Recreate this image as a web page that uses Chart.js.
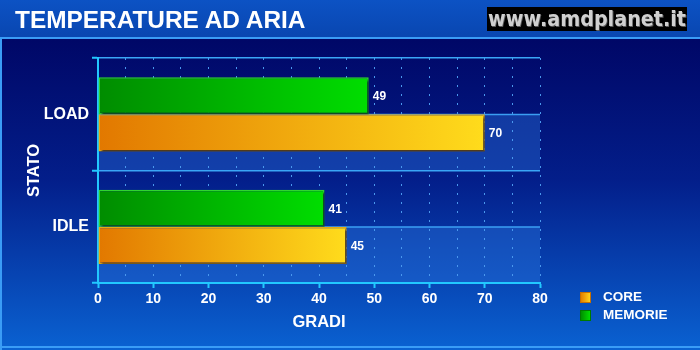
<!DOCTYPE html>
<html>
<head>
<meta charset="utf-8">
<title>Temperature ad aria</title>
<script src="https://cdn.jsdelivr.net/npm/chart.js@4.4.1/dist/chart.umd.min.js"></script>
<style>
  html, body { margin: 0; padding: 0; background: #000a6a; }
  #wrap { position: relative; width: 700px; height: 350px; overflow: hidden; font-family: "Liberation Sans", Arial, sans-serif; }
  #chart { position: absolute; left: 0; top: 0; }
  .title { position: absolute; left: 15px; top: 8px; font-weight: bold; font-size: 24.4px; line-height: 24px; color: #fff; white-space: nowrap; }
  .site { position: absolute; left: 487px; top: 7px; width: 200px; height: 24px; background: #000; overflow: hidden; }
  .site span { position: absolute; left: 1px; top: 0; font-family: "DejaVu Sans", sans-serif; font-weight: bold; font-size: 22px; line-height: 24px; color: #d0d0d0; text-shadow: 1px 1px 0 #5a5a5a; white-space: nowrap; transform-origin: 0 50%; }
  .legend { position: absolute; left: 580px; font-weight: bold; font-size: 13.5px; line-height: 18px; color: #fff; white-space: nowrap; }
  .legend i { position: absolute; left: 0; top: 4px; width: 9px; height: 9px; border: 1px solid; }
  .legend span { position: absolute; left: 23px; top: 0; }
</style>
</head>
<body>
<div id="wrap">
  <canvas id="chart" width="700" height="350"></canvas>
  <div class="title">TEMPERATURE AD ARIA</div>
  <div class="site"><span id="site">www.amdplanet.it</span></div>
  <div class="legend" style="top:288px"><i style="background:linear-gradient(90deg,#e57f00,#ffd21a);border-color:#c87000"></i><span>CORE</span></div>
  <div class="legend" style="top:306px"><i style="background:linear-gradient(90deg,#009000,#00dc00);border-color:#007a00"></i><span>MEMORIE</span></div>
</div>
<script>
// Data
const categories = ['LOAD', 'IDLE'];
const coreValues = [70, 45];
const memorieValues = [49, 41];
const xTickLabels = [0, 10, 20, 30, 40, 50, 60, 70, 80];

// squeeze the site label into its black box
function fitSiteLabel() {
  const el = document.getElementById('site');
  const w = el.getBoundingClientRect().width;
  el.style.transform = 'scaleX(' + (198 / w) + ')';
}

// left-to-right gradient along a bar
function barFill(from, to) {
  return function(ctx) {
    if (ctx.type !== 'data' || !ctx.chart.chartArea) return from;
    const x = ctx.chart.scales.x;
    const x0 = x.getPixelForValue(0);
    const x1 = x.getPixelForValue(ctx.raw);
    const g = ctx.chart.ctx.createLinearGradient(x0, 0, x1, 0);
    g.addColorStop(0, from);
    g.addColorStop(1, to);
    return g;
  };
}

// background panels and the lighter band in each category
const backdrop = {
  id: 'backdrop',
  beforeDraw(chart) {
    const c = chart.ctx;
    const area = chart.chartArea;
    const W = chart.width, H = chart.height;
    c.save();
    // title bar
    const tg = c.createLinearGradient(0, 0, 0, 38);
    tg.addColorStop(0, '#0c52c4');
    tg.addColorStop(1, '#0946b0');
    c.fillStyle = tg;
    c.fillRect(0, 0, W, 38);
    // main panel
    const mg = c.createLinearGradient(0, 40, 0, H);
    mg.addColorStop(0, '#000767');
    mg.addColorStop(0.45, '#031e8a');
    mg.addColorStop(1, '#0a62d2');
    c.fillStyle = mg;
    c.fillRect(0, 39, W, H - 39);
    // light edges
    c.fillStyle = '#3a9cf6';
    c.fillRect(0, 37, W, 2);
    c.fillRect(0, 39, 2, H - 39);
    c.fillRect(0, 346, W, 2);

    // lighter lower half of each category band
    const y = chart.scales.y;
    const step = y.getPixelForValue(1) - y.getPixelForValue(0);
    categories.forEach((cat, i) => {
      const mid = y.getPixelForValue(i);
      c.fillStyle = 'rgba(45, 120, 225, 0.38)';
      c.fillRect(area.left, mid, area.right - area.left, step / 2);
      c.fillStyle = '#3a9ef2';
      c.fillRect(area.left, mid - 0.5, area.right - area.left, 1.5);
    });
    c.restore();
  }
};

// drop shadow under the bars
const barShadow = {
  id: 'barShadow',
  beforeDatasetsDraw(chart) {
    const c = chart.ctx;
    c.save();
    c.shadowColor = 'rgba(0, 0, 30, 0.7)';
    c.shadowOffsetX = 2;
    c.shadowOffsetY = 2;
    c.shadowBlur = 2;
  },
  afterDatasetsDraw(chart) {
    chart.ctx.restore();
  }
};

// value labels at the end of each bar
const valueLabels = {
  id: 'valueLabels',
  afterDatasetsDraw(chart) {
    const c = chart.ctx;
    c.save();
    c.fillStyle = '#ffffff';
    c.font = 'bold 12px "Liberation Sans", Arial, sans-serif';
    c.textAlign = 'left';
    c.textBaseline = 'middle';
    chart.data.datasets.forEach((ds, di) => {
      chart.getDatasetMeta(di).data.forEach((bar, i) => {
        c.fillText(String(ds.data[i]), bar.x + 4, bar.y + 1);
      });
    });
    c.restore();
  }
};

function initializeChart() {
  const ctx = document.getElementById('chart').getContext('2d');
  new Chart(ctx, {
    type: 'bar',
    data: {
      labels: categories,
      datasets: [{
        label: 'MEMORIE',
        data: memorieValues,
        backgroundColor: barFill('#008c00', '#00de00'),
        borderColor: '#2fd62f',
        borderWidth: 1.5,
        borderSkipped: false
      }, {
        label: 'CORE',
        data: coreValues,
        backgroundColor: barFill('#e27800', '#ffdc1c'),
        borderColor: '#e9aa10',
        borderWidth: 1.5,
        borderSkipped: false
      }]
    },
    options: {
      indexAxis: 'y',
      responsive: false,
      animation: false,
      devicePixelRatio: 1,
      categoryPercentage: 0.66,
      barPercentage: 1.0,
      layout: { padding: { top: 58, right: 160, bottom: 0, left: 0 } },
      plugins: {
        legend: { display: false },
        title: { display: false },
        tooltip: { enabled: false }
      },
      scales: {
        x: {
          min: 0,
          max: 80,
          afterFit(scale) { scale.height = 67; },
          ticks: {
            stepSize: 5,
            autoSkip: false,
            maxRotation: 0,
            padding: 3,
            color: '#ffffff',
            font: { family: '"Liberation Sans", Arial, sans-serif', size: 14, weight: 'bold' },
            callback: v => xTickLabels.includes(v) ? String(v) : ''
          },
          grid: {
            color: c => c.tick && c.tick.value === 0 ? 'transparent' : '#4a98ee',
            lineWidth: 1,
            tickLength: 5,
            tickWidth: 2,
            tickColor: c => c.tick && xTickLabels.includes(c.tick.value) ? '#22c8ff' : 'transparent'
          },
          border: { color: '#22c8ff', width: 2, dash: [2, 7] },
          title: {
            display: true,
            text: 'GRADI',
            color: '#ffffff',
            font: { family: '"Liberation Sans", Arial, sans-serif', size: 16.5, weight: 'bold' },
            padding: { top: 0, bottom: 18 }
          }
        },
        y: {
          afterFit(scale) { scale.width = 98; },
          ticks: {
            padding: 3,
            color: '#ffffff',
            font: { family: '"Liberation Sans", Arial, sans-serif', size: 16, weight: 'bold' }
          },
          grid: {
            color: '#3aa6f6',
            lineWidth: 1.5,
            tickLength: 6,
            tickWidth: 2,
            tickColor: '#22c8ff'
          },
          border: { color: '#22c8ff', width: 2 },
          title: {
            display: true,
            text: 'STATO',
            color: '#ffffff',
            font: { family: '"Liberation Sans", Arial, sans-serif', size: 16.5, weight: 'bold' },
            padding: { top: 25, bottom: 0 }
          }
        }
      }
    },
    plugins: [backdrop, barShadow, valueLabels]
  });
}

fitSiteLabel();
initializeChart();
</script>
</body>
</html>
